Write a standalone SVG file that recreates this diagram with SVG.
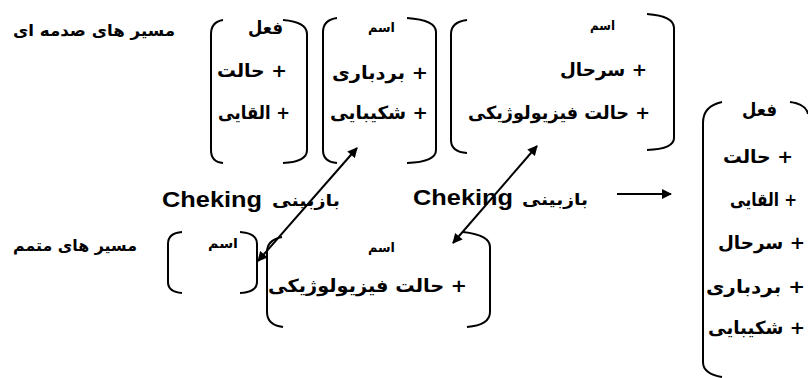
<svg xmlns="http://www.w3.org/2000/svg" width="808" height="378" viewBox="0 0 808 378">
<defs>
<marker id="ah" viewBox="0 0 10 10" refX="9" refY="5" markerWidth="6" markerHeight="5" orient="auto-start-reverse" markerUnits="strokeWidth">
<path d="M0,0 L10,5 L0,10 Z" fill="#000"/>
</marker>
<style>
.br{fill:none;stroke:#000;stroke-width:2}
.cn{fill:none;stroke:#000;stroke-width:2}
.fa{font-family:'DejaVu Sans',sans-serif;font-weight:bold;fill:#000}
.t18{font-size:18px}
.t16{font-size:16px}
.t13{font-size:13px}
.en{font-family:'Liberation Sans',Arial,sans-serif;font-weight:bold;font-size:22px;fill:#000}
</style>
</defs>
<rect width="808" height="378" fill="#fff"/>

<g id="title-top">
<text class="fa t16" x="175" y="36" text-anchor="end" textLength="162" lengthAdjust="spacingAndGlyphs">مسیر های صدمه ای</text>
</g>
<g id="title-bottom">
<text class="fa t16" x="137" y="251" text-anchor="end" textLength="124" lengthAdjust="spacingAndGlyphs">مسیر های متمم</text>
</g>

<g id="node-verb1">
<path class="br" d="M223,20 Q211,22 211,34 L211,150 Q211,162 223,163"/>
<path class="br" d="M283,20 Q307,22 307,34 L307,150 Q307,162 283,163"/>
<text class="fa t18" x="283" y="34" text-anchor="end" textLength="35" lengthAdjust="spacingAndGlyphs">فعل</text>
<text class="fa t18" x="287" y="77" text-anchor="end" textLength="70" lengthAdjust="spacingAndGlyphs">حالت +</text>
<text class="fa t18" x="290" y="119" text-anchor="end" textLength="72" lengthAdjust="spacingAndGlyphs">القایی +</text>
</g>

<g id="node-noun1">
<path class="br" d="M337,18 Q323,20 323,32 L323,150 Q323,162 337,163"/>
<path class="br" d="M407,18 Q436,20 436,32 L436,150 Q436,162 407,163"/>
<text class="fa t13" x="395" y="32" text-anchor="end" textLength="27" lengthAdjust="spacingAndGlyphs">اسم</text>
<text class="fa t18" x="428" y="79" text-anchor="end" textLength="96" lengthAdjust="spacingAndGlyphs">بردباری +</text>
<text class="fa t18" x="428" y="119" text-anchor="end" textLength="98" lengthAdjust="spacingAndGlyphs">شکیبایی +</text>
</g>

<g id="node-noun2">
<path class="br" d="M467,20 Q451,22 451,34 L451,140 Q451,152 467,153"/>
<path class="br" d="M647,14 Q674,16 674,28 L674,138 Q674,149 647,150"/>
<text class="fa t13" x="615" y="30" text-anchor="end" textLength="25" lengthAdjust="spacingAndGlyphs">اسم</text>
<text class="fa t18" x="647" y="76" text-anchor="end" textLength="87" lengthAdjust="spacingAndGlyphs">سرحال +</text>
<text class="fa t18" x="650" y="119" text-anchor="end" textLength="182" lengthAdjust="spacingAndGlyphs">حالت فیزیولوژیکی +</text>
</g>

<g id="node-noun-small">
<path class="br" d="M182,232 Q168,233 168,244 L168,282 Q168,292 182,293"/>
<path class="br" d="M240,232 Q257,233 257,244 L257,282 Q257,292 240,293"/>
<text class="fa t13" x="238" y="248" text-anchor="end" textLength="30" lengthAdjust="spacingAndGlyphs">اسم</text>
</g>

<g id="node-noun3">
<path class="br" d="M282,237 Q267,240 267,252 L267,312 Q267,325 283,327"/>
<path class="br" d="M463,232 Q490,235 490,247 L490,312 Q490,325 467,327"/>
<text class="fa t13" x="395" y="252" text-anchor="end" textLength="27" lengthAdjust="spacingAndGlyphs">اسم</text>
<text class="fa t18" x="467" y="292" text-anchor="end" textLength="199" lengthAdjust="spacingAndGlyphs">حالت فیزیولوژیکی +</text>
</g>

<g id="node-verb2">
<path class="br" d="M722,102 Q703,106 703,123 L703,362 Q703,374 722,377"/>
<path class="br" d="M790,102 Q806,104 808,114"/>
<text class="fa t18" x="777" y="116" text-anchor="end" textLength="35" lengthAdjust="spacingAndGlyphs">فعل</text>
<text class="fa t18" x="793" y="163" text-anchor="end" textLength="70" lengthAdjust="spacingAndGlyphs">حالت +</text>
<text class="fa t18" x="797" y="206" text-anchor="end" textLength="67" lengthAdjust="spacingAndGlyphs">القایی +</text>
<text class="fa t18" x="805" y="249" text-anchor="end" textLength="87" lengthAdjust="spacingAndGlyphs">سرحال +</text>
<text class="fa t18" x="805" y="293" text-anchor="end" textLength="99" lengthAdjust="spacingAndGlyphs">بردباری +</text>
<text class="fa t18" x="805" y="334" text-anchor="end" textLength="97" lengthAdjust="spacingAndGlyphs">شکیبایی +</text>
</g>

<g id="labels">
<text class="en" x="162" y="207" textLength="100" lengthAdjust="spacingAndGlyphs">Cheking</text>
<text class="fa t16" x="340" y="206" text-anchor="end" textLength="68" lengthAdjust="spacingAndGlyphs">بازبینی</text>
<text class="en" x="413" y="205" textLength="100" lengthAdjust="spacingAndGlyphs">Cheking</text>
<text class="fa t16" x="588" y="205" text-anchor="end" textLength="66" lengthAdjust="spacingAndGlyphs">بازبینی</text>
</g>

<g id="connectors">
<line class="cn" x1="258" y1="261" x2="357" y2="148" marker-start="url(#ah)" marker-end="url(#ah)"/>
<line class="cn" x1="453" y1="243" x2="537" y2="146" marker-start="url(#ah)" marker-end="url(#ah)"/>
<line class="cn" x1="617" y1="194" x2="671" y2="194" marker-end="url(#ah)"/>
</g>
</svg>
